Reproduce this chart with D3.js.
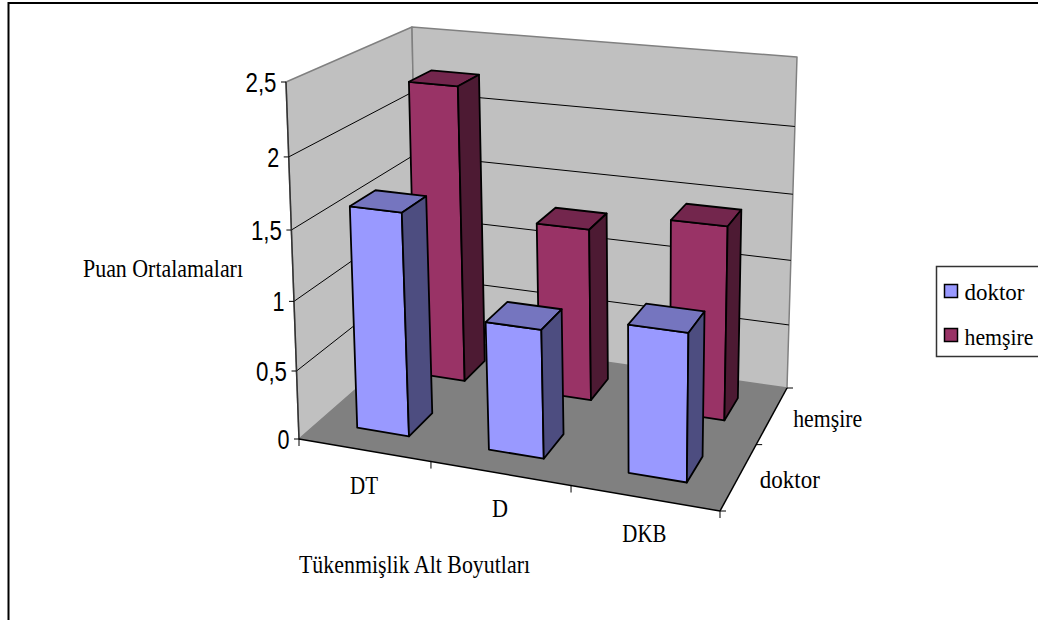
<!DOCTYPE html>
<html>
<head>
<meta charset="utf-8">
<script src="https://cdn.jsdelivr.net/npm/d3@7"></script>
<style>
  html, body { margin: 0; padding: 0; background: #fff; }
  svg { display: block; }
  .serif { font-family: "Liberation Serif", serif; fill: #000; }
  .sans { font-family: "Liberation Sans", sans-serif; fill: #000; }
</style>
</head>
<body>
<div id="chart"></div>
<script>
// values
var categories = ["DT", "D", "DKB"];
var seriesNames = ["doktor", "hemşire"];
var doktor = [1.61, 0.92, 1.04];
var hemsire = [2.25, 1.3, 1.44];
var valueTicks = [0, 0.5, 1, 1.5, 2, 2.5];
var valueLabels = ["0", "0,5", "1", "1,5", "2", "2,5"];

var frontColors = { doktor: "#9999ff", "hemşire": "#993366" };
var topColors = { doktor: "#7575bf", "hemşire": "#73264d" };
var sideColors = { doktor: "#4d4d80", "hemşire": "#4d1a33" };

var width = 1038, height = 620;

var svg = d3.select("#chart").append("svg")
    .attr("width", width)
    .attr("height", height);

// box corners on screen: front-left, front-right, back-right, back-left
var floorQuad = [[299, 439], [720, 511], [787, 388], [418, 335]];
var ceilQuad = [[286, 82], [728, 127], [797, 57], [412, 27]];

function homography(q) {
  var x0 = q[0][0], y0 = q[0][1], x1 = q[1][0], y1 = q[1][1],
      x2 = q[2][0], y2 = q[2][1], x3 = q[3][0], y3 = q[3][1];
  var dx1 = x1 - x2, dx2 = x3 - x2, sx = x0 - x1 + x2 - x3,
      dy1 = y1 - y2, dy2 = y3 - y2, sy = y0 - y1 + y2 - y3;
  var den = dx1 * dy2 - dx2 * dy1;
  var g = (sx * dy2 - dx2 * sy) / den,
      h = (dx1 * sy - sx * dy1) / den;
  var a = x1 - x0 + g * x1, b = x3 - x0 + h * x3,
      d = y1 - y0 + g * y1, e = y3 - y0 + h * y3;
  return function(u, v) {
    var w = g * u + h * v + 1;
    return [(a * u + b * v + x0) / w, (d * u + e * v + y0) / w];
  };
}

var floorMap = homography(floorQuad),
    ceilMap = homography(ceilQuad);

// u along categories, v into depth, h up, all 0..1
// ticks spread out a little going up, the camera looks down on the box
function project(u, v, h) {
  var p0 = floorMap(u, v), p1 = ceilMap(u, v);
  var t = h / (1.0625 - 0.0625 * h);
  return [p0[0] + (p1[0] - p0[0]) * t, p0[1] + (p1[1] - p0[1]) * t];
}

var xScale = d3.scaleBand().domain(categories).range([0, 1]).paddingInner(0.6).paddingOuter(0.3);
var zScale = d3.scaleBand().domain(seriesNames).range([0, 1]).paddingInner(0.6).paddingOuter(0.3);
var yScale = d3.scaleLinear().domain([0, 2.5]).range([0, 1]);

function poly(g, pts, fill, stroke, sw) {
  return g.append("polygon")
      .attr("points", pts.map(function(p) { return p.join(","); }).join(" "))
      .attr("fill", fill)
      .attr("stroke", stroke)
      .attr("stroke-width", sw)
      .attr("stroke-linejoin", "round");
}

function line(g, a, b, stroke, sw) {
  return g.append("line")
      .attr("x1", a[0]).attr("y1", a[1])
      .attr("x2", b[0]).attr("y2", b[1])
      .attr("stroke", stroke)
      .attr("stroke-width", sw);
}

function label(cls, text, x, y, size, len) {
  return svg.append("text")
      .attr("class", cls)
      .attr("x", x)
      .attr("y", y)
      .attr("font-size", size)
      .attr("textLength", len)
      .attr("lengthAdjust", "spacingAndGlyphs")
      .text(text);
}

// outer frame (open at right and bottom)
svg.append("path")
    .attr("d", "M8.5,620V3H1038")
    .attr("fill", "none")
    .attr("stroke", "#000")
    .attr("stroke-width", 2);

// walls and floor
var walls = svg.append("g");
poly(walls, [project(0, 0, 0), project(0, 0, 1), project(0, 1, 1), project(0, 1, 0)], "#c0c0c0", "#808080", 1.5);
poly(walls, [project(0, 1, 0), project(0, 1, 1), project(1, 1, 1), project(1, 1, 0)], "#c0c0c0", "#808080", 1.5);
poly(walls, [project(0, 0, 0), project(1, 0, 0), project(1, 1, 0), project(0, 1, 0)], "#808080", "none", 0);

// gridlines on both walls
valueTicks.slice(1, -1).forEach(function(t) {
  var h = yScale(t);
  line(walls, project(0, 0, h), project(0, 1, h), "#000", 1);
  line(walls, project(0, 1, h), project(1, 1, h), "#000", 1);
});

// axes
line(walls, project(0, 0, 0), project(0, 0, 1), "#333", 1.5);
line(walls, project(0, 0, 0), project(1, 0, 0), "#000", 1.5);
line(walls, project(1, 0, 0), project(1, 1, 0), "#000", 1.5);

valueTicks.forEach(function(t, i) {
  var p = project(0, 0, yScale(t));
  line(walls, [p[0] - 5, p[1]], p, "#000", 1);
  var txt = valueLabels[i];
  label("sans", txt, p[0] - 9.5, p[1] + 10, 27, txt.length === 1 ? 12 : 31)
      .attr("text-anchor", "end");
});

[0, 1 / 3, 2 / 3, 1].forEach(function(u) {
  var p = project(u, 0, 0);
  line(walls, p, [p[0], p[1] + 7], "#000", 1);
});
[0, 0.5, 1].forEach(function(v) {
  var p = project(1, v, 0);
  line(walls, p, [p[0] + 6, p[1]], "#000", 1);
});

// bars, back row first
var bars = svg.append("g");

function drawBar(cat, name, value) {
  var u0 = xScale(cat), u1 = u0 + xScale.bandwidth();
  var v0 = zScale(name), v1 = v0 + zScale.bandwidth();
  var h = yScale(value);
  var g = bars.append("g");
  poly(g, [project(u0, v0, 0), project(u1, v0, 0), project(u1, v0, h), project(u0, v0, h)], frontColors[name], "#000", 1.8);
  poly(g, [project(u0, v0, h), project(u1, v0, h), project(u1, v1, h), project(u0, v1, h)], topColors[name], "#000", 1.8);
  poly(g, [project(u1, v0, 0), project(u1, v1, 0), project(u1, v1, h), project(u1, v0, h)], sideColors[name], "#000", 1.8);
}

categories.forEach(function(c, i) { drawBar(c, "hemşire", hemsire[i]); });
categories.forEach(function(c, i) { drawBar(c, "doktor", doktor[i]); });

// axis labels
var catWidths = [28, 16, 44];
categories.forEach(function(c, i) {
  var p = project(xScale(c) + xScale.bandwidth() / 2, 0, 0);
  label("serif", c, p[0], p[1] + 43.5, 26, catWidths[i]).attr("text-anchor", "middle");
});
var depthWidths = [60, 69];
seriesNames.forEach(function(s, i) {
  var p = project(1, zScale(s) + zScale.bandwidth() / 2, 0);
  label("serif", s, p[0] + 21, p[1] + 12, 26, depthWidths[i]);
});
label("serif", "Puan Ortalamaları", 83, 277, 26, 160);
label("serif", "Tükenmişlik Alt Boyutları", 299, 573, 26, 231);

// legend, box runs off the page edge
var legend = svg.append("g");
legend.append("rect")
    .attr("x", 936.5).attr("y", 266.5)
    .attr("width", 110).attr("height", 90)
    .attr("fill", "#fff")
    .attr("stroke", "#333")
    .attr("stroke-width", 1.5);
seriesNames.forEach(function(s, i) {
  legend.append("rect")
      .attr("x", 944.5).attr("y", 284.5 + i * 44)
      .attr("width", 13).attr("height", 13)
      .attr("fill", frontColors[s])
      .attr("stroke", "#000")
      .attr("stroke-width", 1.5);
  label("serif", s, 964.5, 300 + i * 45, 23, depthWidths[i]);
});
</script>
</body>
</html>
